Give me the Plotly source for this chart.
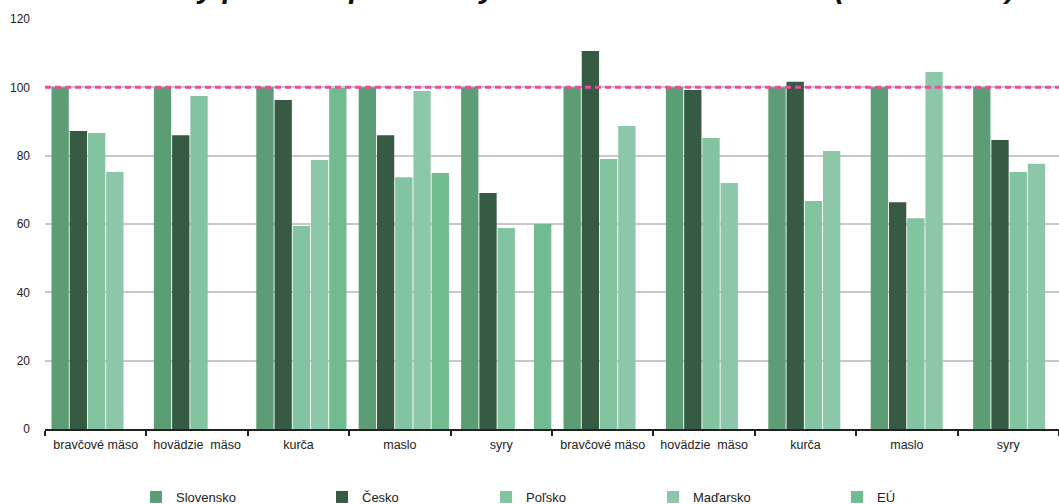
import plotly.graph_objects as go

# ---- data ----
categories = ["bravčové mäso", "hovädzie\u00a0 mäso", "kurča", "maslo", "syry",
              "bravčové mäso", "hovädzie\u00a0 mäso", "kurča", "maslo", "syry"]
series_names = ["Slovensko", "Česko", "Poľsko", "Maďarsko", "EÚ"]
slovensko = [100, 100, 100, 100, 100, 100, 100, 100, 100, 100]
cesko = [87.2, 86.0, 96.3, 86.0, 69.1, 110.6, 99.2, 101.6, 66.4, 84.6]
polsko = [86.6, 97.5, 59.4, 73.7, 58.8, 79.0, 85.2, 66.7, 61.7, 75.2]
madarsko = [75.2, None, 78.7, 98.9, None, 88.7, 72.0, 81.4, 104.5, 77.6]
eu = [None, None, 99.8, 74.9, 60.0, None, None, None, None, None]
reference_level = 100
y_ticks = [0, 20, 40, 60, 80, 100, 120]
title_text = "Ceny potravín pre rodiny na Slovensku a v okolí (SR = 100 %)"

values = [slovensko, cesko, polsko, madarsko, eu]
colors = ["#5c9d76", "#375a42", "#82c4a0", "#8cc7a9", "#70bc90"]

FONT = "Liberation Sans, Arial, Helvetica, sans-serif"
x_idx = list(range(len(categories)))
n = len(categories)

fig = go.Figure()
# invisible helper trace so the labelled category axis is drawn
fig.add_trace(go.Scatter(x=x_idx, y=[None] * n, xaxis="x", yaxis="y",
                         showlegend=False, hoverinfo="skip", mode="markers"))

legend_ids = ["legend", "legend2", "legend3", "legend4", "legend5"]
for name, vals, col, lid in zip(series_names, values, colors, legend_ids):
    fig.add_trace(go.Bar(
        x=x_idx, y=vals, name=name, marker=dict(color=col, line=dict(width=0)),
        xaxis="x2", yaxis="y", legend=lid, hoverinfo="x+y+name",
    ))

fig.add_shape(type="line", xref="paper", x0=0, x1=1, yref="y",
              y0=reference_level, y1=reference_level,
              line=dict(color="#ec4c9c", width=3, dash="6px,4px"), layer="above")

fig.add_annotation(text="<b><i>" + title_text + "</i></b>", xref="paper", yref="paper",
                   x=(1017 - 45) / 1014, y=1.0317, xanchor="right", yanchor="bottom",
                   showarrow=False, font=dict(family=FONT, size=30, color="#111111"))

legend_left_px = [136, 322, 486, 653, 837]
layout_legends = {}
for lid, px in zip(legend_ids, legend_left_px):
    layout_legends[lid] = dict(
        x=(px - 45) / 1014, xanchor="left", y=(429 - 497) / 410, yanchor="middle",
        orientation="h", bgcolor="rgba(0,0,0,0)", borderwidth=0,
        font=dict(family=FONT, size=13, color="#222222"),
    )

fig.update_layout(
    width=1059, height=504,
    margin=dict(l=45, r=0, t=19, b=75, autoexpand=False),
    paper_bgcolor="white", plot_bgcolor="white",
    barmode="group", bargap=0.11, bargroupgap=0.05,
    showlegend=True,
    font=dict(family=FONT, size=12, color="#222222"),
    xaxis=dict(range=[-0.5, n - 0.5], tickmode="array", tickvals=x_idx, ticktext=categories,
               ticks="", showgrid=False, zeroline=False, showline=True,
               linecolor="#222222", linewidth=1.5, ticklabelstandoff=3,
               tickfont=dict(family=FONT, size=12.5, color="#222222"),
               minor=dict(tickmode="array", tickvals=[i - 0.5 for i in range(n + 1)],
                          ticks="outside", ticklen=5, tickwidth=1.5, tickcolor="#222222",
                          showgrid=False)),
    xaxis2=dict(overlaying="x", anchor="y", visible=False, range=[-0.504, 9.398]),
    yaxis=dict(range=[0, 120], tickmode="array", tickvals=y_ticks, showgrid=True,
               gridcolor="#c8c8c8", gridwidth=2, zeroline=False, showline=False,
               ticks="", ticklabelstandoff=14,
               tickfont=dict(family=FONT, size=12, color="#222222")),
    **layout_legends,
)

fig.write_html("out.html", config={"displayModeBar": False},
               post_script="document.body.style.margin='0px';"
                           "document.body.style.overflow='hidden';")
